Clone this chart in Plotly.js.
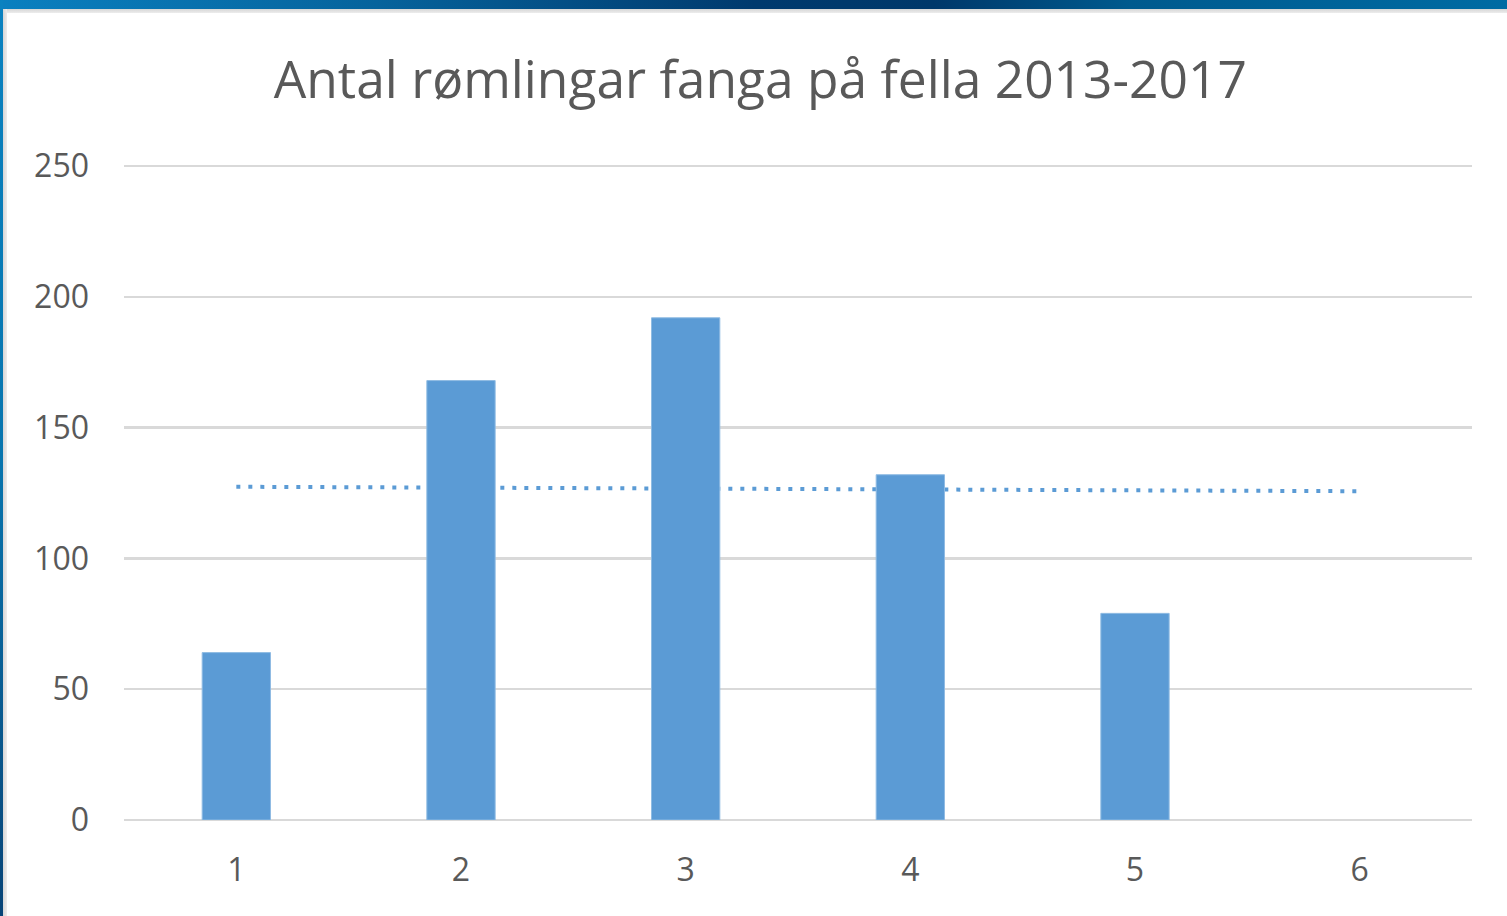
<!DOCTYPE html>
<html>
<head>
<meta charset="utf-8">
<script src="https://cdn.plot.ly/plotly-3.0.1.min.js"></script>
<style>
  html, body { margin: 0; padding: 0; background: #ffffff; width: 1507px; height: 916px; overflow: hidden; }
  #topbar { position: absolute; left: 0; top: 0; width: 1507px; height: 9px;
    background: linear-gradient(to right, #0a80c0 0%, #06639c 25%, #003a6e 50%, #00386a 62%, #005a8e 75%, #006ba3 100%); z-index: 2; }
  #topline { position: absolute; left: 0; top: 9px; width: 1507px; height: 4px;
    background: linear-gradient(to bottom, #d6d6d6, #ececec); z-index: 1; }
  #leftbar { position: absolute; left: 0; top: 0; width: 3px; height: 916px;
    background: linear-gradient(to bottom, #0a82c0 0%, #0775ae 50%, #084477 100%); z-index: 3; }
  #leftline { position: absolute; left: 3px; top: 9px; width: 4px; height: 907px;
    background: linear-gradient(to right, #d6d6d6, #ececec); z-index: 1; }
  #chart { position: absolute; left: 0; top: 0; width: 1507px; height: 916px; }
</style>
</head>
<body>
<div id="chart"></div>
<div id="topbar"></div>
<div id="topline"></div>
<div id="leftbar"></div>
<div id="leftline"></div>
<script>
// Data
const chartTitle = "Antal rømlingar fanga på fella 2013-2017";
const categories = [1, 2, 3, 4, 5, 6];
const catches = [64, 168, 192, 132, 79, null];
const trendX = [1, 6];
const trendY = [127.4, 125.7];
const yTicks = [0, 50, 100, 150, 200, 250];

const barColor = "#5b9bd5";
const gridColor = "#d9d9d9";
const textColor = "#595959";
const fontFamily = "'Open Sans', 'Noto Sans', sans-serif";

const traces = [
  {
    type: "scatter",
    mode: "lines",
    x: trendX,
    y: trendY,
    xaxis: "x",
    yaxis: "y",
    line: { color: barColor, width: 4, dash: "4px,8px" },
    hoverinfo: "skip",
    showlegend: false
  },
  {
    type: "bar",
    x: categories,
    y: catches,
    xaxis: "x",
    yaxis: "y2",
    marker: { color: barColor, line: { color: "#8fbbe3", width: 1 } },
    showlegend: false
  }
];

const layout = {
  width: 1507,
  height: 916,
  margin: { l: 124, r: 35, t: 164, b: 96 },
  paper_bgcolor: "rgba(0,0,0,0)",
  plot_bgcolor: "rgba(0,0,0,0)",
  bargap: 0.696,
  showlegend: false,
  font: { family: fontFamily, color: textColor },
  title: {
    text: chartTitle,
    font: { family: fontFamily, size: 51.5, color: textColor },
    xref: "paper",
    x: 0.472,
    xanchor: "center",
    yref: "container",
    y: 0.913,
    yanchor: "middle"
  },
  xaxis: {
    range: [0.5, 6.5],
    tickmode: "array",
    tickvals: categories,
    ticktext: categories.map(String),
    showgrid: false,
    zeroline: false,
    showline: false,
    ticks: "",
    ticklabelstandoff: 28,
    tickfont: { family: fontFamily, size: 32, color: textColor }
  },
  yaxis: {
    range: [0, 250.8],
    tickmode: "array",
    tickvals: yTicks,
    ticktext: yTicks.map(String),
    showgrid: true,
    gridcolor: gridColor,
    gridwidth: 2.5,
    zeroline: true,
    zerolinecolor: gridColor,
    zerolinewidth: 2.5,
    showline: false,
    ticks: "",
    ticklabelstandoff: 34,
    tickfont: { family: fontFamily, size: 32, color: textColor }
  },
  yaxis2: {
    range: [0, 250.8],
    overlaying: "y",
    side: "left",
    showgrid: false,
    zeroline: false,
    showticklabels: false,
    ticks: ""
  }
};

Plotly.newPlot("chart", traces, layout, { displayModeBar: false, staticPlot: true });
</script>
</body>
</html>
